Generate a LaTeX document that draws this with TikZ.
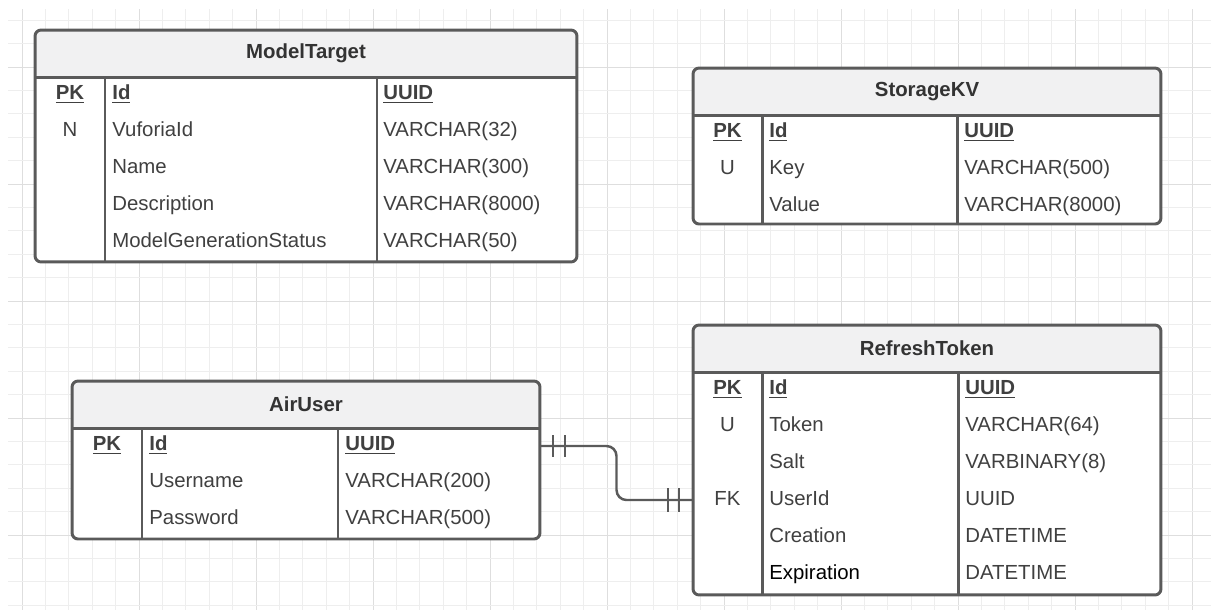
\documentclass[tikz,border=0pt]{standalone}
\usepackage{fontspec}
\setmainfont{Liberation Sans}
\usetikzlibrary{calc}

\definecolor{linegrey}{RGB}{90,90,90}
\definecolor{headgrey}{RGB}{241,241,242}
\definecolor{txtgrey}{RGB}{64,64,64}
\definecolor{gridminor}{RGB}{238,238,238}
\definecolor{gridmajor}{RGB}{222,222,222}

\begin{document}
\begin{tikzpicture}[x=0.02cm, y=-0.02cm, font=\fontsize{11.6pt}{14pt}\selectfont]

\tikzstyle{tbl}=[draw=linegrey, line width=1.7pt, fill=white, rounded corners=0.12cm, inner sep=0pt, outer sep=0pt, path picture={\fill[headgrey] (path picture bounding box.north west) rectangle ([yshift=-0.94cm]path picture bounding box.north east);}]
\tikzstyle{sep}=[draw=linegrey, line width=1.7pt]
\tikzstyle{title}=[font=\fontsize{11.6pt}{14pt}\selectfont\bfseries, text=txtgrey!80!black]
\tikzstyle{fld}=[anchor=west, inner sep=0pt, text=txtgrey, text height=10.3pt, text depth=2pt]
\tikzstyle{key}=[inner sep=0pt, text=txtgrey, text height=10.3pt, text depth=2pt]
\tikzstyle{rel}=[draw=linegrey, line width=1.4pt, rounded corners=0.2cm]
\tikzstyle{bar}=[draw=linegrey, line width=1.2pt]

\useasboundingbox (0,0) rectangle (1211,610);

% background grid
\foreach \i in {0,...,50}{
  \pgfmathtruncatemacro{\m}{mod(\i,5)}
  \ifnum\m=0 \draw[gridmajor, line width=0.5pt] (22+\i*23.4,9) -- (22+\i*23.4,610);
  \else \draw[gridminor, line width=0.5pt] (22+\i*23.4,9) -- (22+\i*23.4,610); \fi
}
\foreach \j in {0,...,25}{
  \pgfmathtruncatemacro{\m}{mod(\j,5)}
  \ifnum\m=2 \draw[gridmajor, line width=0.5pt] (8,20.2+\j*23.4) -- (1211,20.2+\j*23.4);
  \else \draw[gridminor, line width=0.5pt] (8,20.2+\j*23.4) -- (1211,20.2+\j*23.4); \fi
}

% ModelTarget
\node (ModelTarget) [tbl, minimum width=10.84cm, minimum height=4.64cm] at (306,146) {};
\draw[sep] (35,77) -- (577,77);
\draw[sep] (105,77) -- (105,262);
\draw[sep] (377,77) -- (377,262);
\node (mttitle) [title] at (306,53.5) {ModelTarget};
\node (mtpk) [key] at (70,92.5) {\textbf{\underline{PK}}};
\node (mtn) [key] at (70,129.5) {N};
\node (mtid) [fld] at (112,92.5) {\textbf{\underline{Id}}};
\node (mtvuf) [fld] at (112,129.5) {VuforiaId};
\node (mtname) [fld] at (112,166.5) {Name};
\node (mtdesc) [fld] at (112,203.5) {Description};
\node (mtstat) [fld] at (112,240.5) {ModelGenerationStatus};
\node (mtidt) [fld] at (383,92.5) {\textbf{\underline{UUID}}};
\node (mtvuft) [fld] at (383,129.5) {VARCHAR(32)};
\node (mtnamet) [fld] at (383,166.5) {VARCHAR(300)};
\node (mtdesct) [fld] at (383,203.5) {VARCHAR(8000)};
\node (mtstatt) [fld] at (383,240.5) {VARCHAR(50)};

% StorageKV
\node (StorageKV) [tbl, minimum width=9.36cm, minimum height=3.12cm] at (927,146) {};
\draw[sep] (693,115) -- (1161,115);
\draw[sep] (762,115) -- (762,224);
\draw[sep] (957,115) -- (957,224);
\node (kvtitle) [title] at (927,91.5) {StorageKV};
\node (kvpk) [key] at (727.5,130.5) {\textbf{\underline{PK}}};
\node (kvu) [key] at (727.5,167.5) {U};
\node (kvid) [fld] at (769,130.5) {\textbf{\underline{Id}}};
\node (kvkey) [fld] at (769,167.5) {Key};
\node (kvval) [fld] at (769,204.5) {Value};
\node (kvidt) [fld] at (964,130.5) {\textbf{\underline{UUID}}};
\node (kvkeyt) [fld] at (964,167.5) {VARCHAR(500)};
\node (kvvalt) [fld] at (964,204.5) {VARCHAR(8000)};

% RefreshToken
\node (RefreshToken) [tbl, minimum width=9.36cm, minimum height=5.4cm] at (927,460) {};
\draw[sep] (693,372) -- (1161,372);
\draw[sep] (762,372) -- (762,595);
\draw[sep] (958,372) -- (958,595);
\node (rttitle) [title] at (927,348.5) {RefreshToken};
\node (rtpk) [key] at (727.5,387.5) {\textbf{\underline{PK}}};
\node (rtu) [key] at (727.5,424.5) {U};
\node (rtfk) [key] at (727.5,498.5) {FK};
\node (rtid) [fld] at (769,387.5) {\textbf{\underline{Id}}};
\node (rttoken) [fld] at (769,424.5) {Token};
\node (rtsalt) [fld] at (769,461.5) {Salt};
\node (rtuserid) [fld] at (769,498.5) {UserId};
\node (rtcreat) [fld] at (769,535.5) {Creation};
\node (rtexp) [fld, text=black] at (769,572.5) {Expiration};
\node (rtidt) [fld] at (965,387.5) {\textbf{\underline{UUID}}};
\node (rttokent) [fld] at (965,424.5) {VARCHAR(64)};
\node (rtsaltt) [fld] at (965,461.5) {VARBINARY(8)};
\node (rtuseridt) [fld] at (965,498.5) {UUID};
\node (rtcreatt) [fld] at (965,535.5) {DATETIME};
\node (rtexpt) [fld] at (965,572.5) {DATETIME};

% AirUser
\node (AirUser) [tbl, minimum width=9.36cm, minimum height=3.16cm] at (306,460) {};
\draw[sep] (72,428) -- (540,428);
\draw[sep] (142,428) -- (142,539);
\draw[sep] (338,428) -- (338,539);
\node (autitle) [title] at (306,404.5) {AirUser};
\node (aupk) [key] at (107,443.5) {\textbf{\underline{PK}}};
\node (auid) [fld] at (149,443.5) {\textbf{\underline{Id}}};
\node (auuser) [fld] at (149,480.5) {Username};
\node (aupass) [fld] at (149,517.5) {Password};
\node (auidt) [fld] at (345,443.5) {\textbf{\underline{UUID}}};
\node (auusert) [fld] at (345,480.5) {VARCHAR(200)};
\node (aupasst) [fld] at (345,517.5) {VARCHAR(500)};

% one-to-one relation
\coordinate (auport) at ([yshift=-0.05cm]AirUser.east |- auid);
\coordinate (rtport) at ([yshift=-0.03cm]RefreshToken.west |- rtuserid);
\draw[rel] (auport) -| ($(auport)!0.5!(rtport)$) |- (rtport);
\draw[bar] ($(auport)+(13,-11)$) -- ++(0,22);
\draw[bar] ($(auport)+(25,-11)$) -- ++(0,22);
\draw[bar] ($(rtport)+(-25,-12)$) -- ++(0,24);
\draw[bar] ($(rtport)+(-14,-12)$) -- ++(0,24);

\end{tikzpicture}
\end{document}
